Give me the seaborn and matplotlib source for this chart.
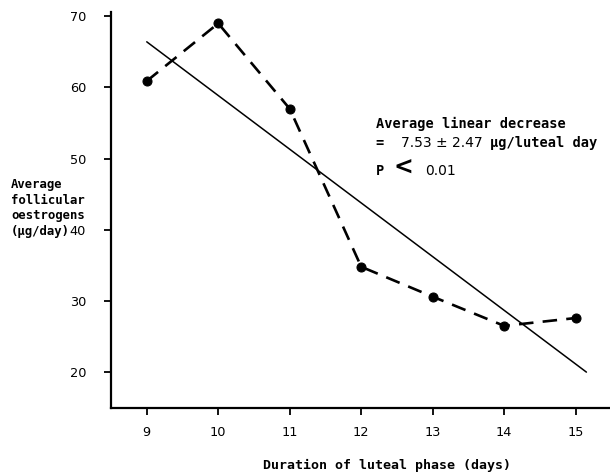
import numpy as np
import pandas as pd
import matplotlib
matplotlib.use("Agg")
import matplotlib.pyplot as plt
import seaborn as sns

# dados
dias = [9, 10, 11, 12, 13, 14, 15]
estrogenos = [60.9, 69.0, 57.0, 34.8, 30.6, 26.5, 27.6]
y_ticks = [20, 30, 40, 50, 60, 70]
x_fim_reta = 15.15
rotulo_y = ['Average', 'follicular', 'oestrogens', '(\u03bcg/day)']

df = pd.DataFrame({'dias': dias, 'estrogenos': estrogenos})

# reta de regressão (mínimos quadrados)
coef = np.polyfit(df['dias'], df['estrogenos'], 1)
x_reta = np.array([dias[0], x_fim_reta])
df_reta = pd.DataFrame({'x': x_reta, 'y': np.polyval(coef, x_reta)})

sns.set_style("ticks", {'text.color': 'black', 'xtick.color': 'black',
                        'ytick.color': 'black', 'axes.edgecolor': 'black'})
mono = 'DejaVu Sans Mono'
sans = 'DejaVu Sans'

fig = plt.figure(figsize=(6.1, 4.73), dpi=100)
ax = fig.add_axes([111/610, 1 - 407.7/473, 1 - 111/610, (407.7 - 12)/473])

sns.lineplot(data=df, x='dias', y='estrogenos', ax=ax, color='black',
             marker='o', markersize=6.5, markeredgecolor='black',
             linewidth=1.9, linestyle=(0, (5.5, 3.5)))
sns.lineplot(data=df_reta, x='x', y='y', ax=ax, color='black', linewidth=1.1)

ax.set_xlim(8.5, 15.48)
ax.set_ylim(15, 70.6)
ax.set_xticks(dias)
ax.set_yticks(y_ticks)
ax.tick_params(axis='y', direction='out', length=5, width=1.3, pad=13,
               labelsize=9.3, labelcolor='black')
ax.tick_params(axis='x', direction='out', length=5, width=1.3, pad=8,
               labelsize=9.3, labelcolor='black')
for lab in ax.get_xticklabels() + ax.get_yticklabels():
    lab.set_fontfamily(sans)
ax.set_xlabel('')
ax.set_ylabel('')
sns.despine(ax=ax)
for s in ['left', 'bottom']:
    ax.spines[s].set_linewidth(1.6)

# rótulo do eixo y, uma linha por vez
for i, linha in enumerate(rotulo_y):
    fig.text(11/610, 1 - (188 + 15.5*i)/473, linha, ha='left', va='baseline',
             fontsize=8.8, fontfamily=mono, fontweight='bold', color='black')
fig.text(387/610, 1 - 472/473, 'Duration of luteal phase (days)',
         ha='center', va='bottom', fontsize=9.5, fontfamily=mono,
         fontweight='bold', color='black')

# anotação
ax.text(12.2, 54.3, 'Average linear decrease', fontsize=9.8, fontfamily=mono,
        fontweight='bold', va='baseline')
ax.text(12.2, 51.6, '=', fontsize=9.8, fontfamily=mono, fontweight='bold', va='baseline')
ax.text(12.55, 51.6, '7.53 \u00b1 2.47', fontsize=10, fontfamily=sans, va='baseline')
ax.text(13.8, 51.6, '\u03bcg/luteal day', fontsize=9.8, fontfamily=mono,
        fontweight='bold', va='baseline')
ax.text(12.2, 47.7, 'P', fontsize=9.8, fontfamily=mono, fontweight='bold', va='baseline')
ax.text(12.45, 47.7, '<', fontsize=17, fontfamily=sans, fontweight='bold', va='baseline')
ax.text(12.9, 47.7, '0.01', fontsize=10, fontfamily=sans, va='baseline')

plt.savefig('out.png', dpi=100)
